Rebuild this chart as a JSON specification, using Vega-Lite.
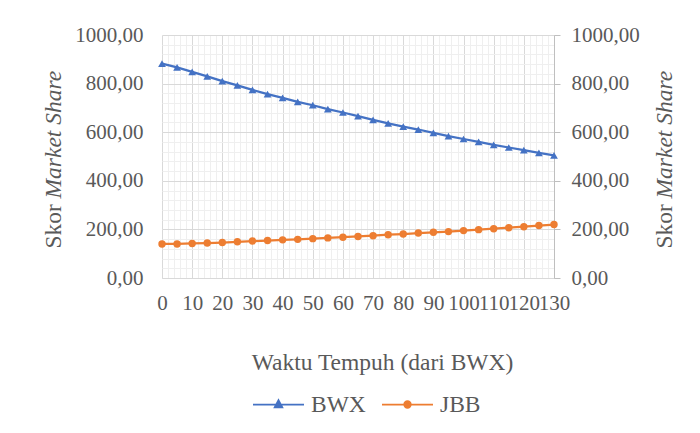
{
  "$schema": "https://vega.github.io/schema/vega-lite/v6.json",
  "width": 392,
  "height": 243,
  "autosize": "none",
  "padding": {"left": 162, "top": 35, "right": 146, "bottom": 155},
  "background": "white",
  "config": {
    "font": "Liberation Serif",
    "view": {"stroke": null},
    "axis": {
      "labelFont": "Liberation Serif",
      "titleFont": "Liberation Serif",
      "labelColor": "#595959",
      "titleColor": "#595959",
      "labelFontSize": 21,
      "titleFontSize": 23.5,
      "titleFontWeight": "normal"
    },
    "legend": {"labelFont": "Liberation Serif"}
  },
  "data": {
    "values": [
      {"t": 0, "series": "BWX", "score": 882}, {"t": 5, "series": "BWX", "score": 867},
      {"t": 10, "series": "BWX", "score": 848}, {"t": 15, "series": "BWX", "score": 830},
      {"t": 20, "series": "BWX", "score": 810}, {"t": 25, "series": "BWX", "score": 793},
      {"t": 30, "series": "BWX", "score": 774}, {"t": 35, "series": "BWX", "score": 757},
      {"t": 40, "series": "BWX", "score": 741}, {"t": 45, "series": "BWX", "score": 725},
      {"t": 50, "series": "BWX", "score": 711}, {"t": 55, "series": "BWX", "score": 695},
      {"t": 60, "series": "BWX", "score": 681}, {"t": 65, "series": "BWX", "score": 666},
      {"t": 70, "series": "BWX", "score": 651}, {"t": 75, "series": "BWX", "score": 636},
      {"t": 80, "series": "BWX", "score": 623}, {"t": 85, "series": "BWX", "score": 611},
      {"t": 90, "series": "BWX", "score": 597}, {"t": 95, "series": "BWX", "score": 584},
      {"t": 100, "series": "BWX", "score": 572}, {"t": 105, "series": "BWX", "score": 560},
      {"t": 110, "series": "BWX", "score": 548}, {"t": 115, "series": "BWX", "score": 537},
      {"t": 120, "series": "BWX", "score": 526}, {"t": 125, "series": "BWX", "score": 515},
      {"t": 130, "series": "BWX", "score": 505},
      {"t": 0, "series": "JBB", "score": 140}, {"t": 5, "series": "JBB", "score": 140},
      {"t": 10, "series": "JBB", "score": 142}, {"t": 15, "series": "JBB", "score": 144},
      {"t": 20, "series": "JBB", "score": 146}, {"t": 25, "series": "JBB", "score": 149},
      {"t": 30, "series": "JBB", "score": 152}, {"t": 35, "series": "JBB", "score": 154},
      {"t": 40, "series": "JBB", "score": 157}, {"t": 45, "series": "JBB", "score": 159},
      {"t": 50, "series": "JBB", "score": 162}, {"t": 55, "series": "JBB", "score": 165},
      {"t": 60, "series": "JBB", "score": 168}, {"t": 65, "series": "JBB", "score": 171},
      {"t": 70, "series": "JBB", "score": 174}, {"t": 75, "series": "JBB", "score": 178},
      {"t": 80, "series": "JBB", "score": 181}, {"t": 85, "series": "JBB", "score": 185},
      {"t": 90, "series": "JBB", "score": 188}, {"t": 95, "series": "JBB", "score": 191},
      {"t": 100, "series": "JBB", "score": 195}, {"t": 105, "series": "JBB", "score": 199},
      {"t": 110, "series": "JBB", "score": 203}, {"t": 115, "series": "JBB", "score": 207},
      {"t": 120, "series": "JBB", "score": 211}, {"t": 125, "series": "JBB", "score": 216},
      {"t": 130, "series": "JBB", "score": 220}
    ]
  },
  "encoding": {
    "color": {
      "field": "series",
      "type": "nominal",
      "scale": {"domain": ["BWX", "JBB"], "range": ["#4472C4", "#ED7D31"]},
      "legend": {
        "title": null,
        "orient": "none",
        "direction": "horizontal",
        "legendX": 90,
        "legendY": 343,
        "padding": 0,
        "symbolSize": 2601,
        "symbolStrokeWidth": 1.75,
        "labelFont": "Liberation Serif",
        "labelFontSize": 23.5,
        "labelColor": "#595959",
        "labelOffset": 6,
        "columnPadding": 12,
        "encode": {
          "symbols": {
            "update": {
              "shape": {"signal": "datum.value === 'BWX' ? 'M-1,0H1M0,-0.17L0.15,0.11L-0.15,0.11Z' : 'M-1,0H1M0.13,0A0.13,0.13 0 1,1 -0.13,0A0.13,0.13 0 1,1 0.13,0Z'"},
              "fill": {"scale": "color", "field": "value"},
              "stroke": {"scale": "color", "field": "value"},
              "opacity": {"value": 1}
            }
          },
          "labels": {"update": {"font": {"value": "Liberation Serif"}}}
        }
      }
    }
  },
  "layer": [
    {
      "transform": [{"filter": "datum.series === 'BWX'"}],
      "mark": {"type": "line", "strokeWidth": 2.25},
      "encoding": {
        "x": {
          "field": "t", "type": "quantitative",
          "scale": {"domain": [0, 130], "nice": false, "zero": false},
          "axis": {
            "orient": "top", "grid": true, "gridColor": "#efefef",
            "values": [0,2,4,6,8,10,12,14,16,18,20,22,24,26,28,30,32,34,36,38,40,42,44,46,48,50,52,54,56,58,60,62,64,66,68,70,72,74,76,78,80,82,84,86,88,90,92,94,96,98,100,102,104,106,108,110,112,114,116,118,120,122,124,126,128,130],
            "labels": false, "ticks": false, "domain": false, "title": null
          }
        },
        "y": {
          "field": "score", "type": "quantitative",
          "scale": {"domain": [0, 1000], "nice": false},
          "axis": {
            "orient": "left", "grid": true, "gridColor": "#efefef",
            "values": [0,40,80,120,160,200,240,280,320,360,400,440,480,520,560,600,640,680,720,760,800,840,880,920,960,1000],
            "labels": false, "ticks": false, "domain": false,
            "title": "Market Share", "titleFont": "Liberation Serif", "titleFontStyle": "italic",
            "titleX": -109, "titleY": 163, "titleAngle": 270,
            "titleAlign": "left", "titleBaseline": "middle"
          }
        }
      }
    },
    {
      "transform": [{"filter": "datum.series === 'JBB'"}],
      "mark": {"type": "line", "strokeWidth": 2.25},
      "encoding": {
        "x": {
          "field": "t", "type": "quantitative",
          "scale": {"domain": [0, 130], "nice": false, "zero": false},
          "axis": {
            "orient": "bottom", "grid": true, "gridColor": "#d9d9d9",
            "values": [0,10,20,30,40,50,60,70,80,90,100,110,120,130],
            "ticks": false, "tickSize": 0, "domain": true, "domainColor": "#d9d9d9",
            "labelPadding": 14, "labelOverlap": false, "labelFlush": false, "labelBound": false,
            "title": "Waktu Tempuh (dari BWX)", "titleFont": "Liberation Serif",
            "titleX": 220, "titleY": 84, "titleAlign": "center", "titleBaseline": "middle"
          }
        },
        "y": {
          "field": "score", "type": "quantitative",
          "scale": {"domain": [0, 1000], "nice": false},
          "axis": {
            "orient": "left", "grid": true, "gridColor": "#d9d9d9",
            "values": [0,200,400,600,800,1000],
            "labelExpr": "replace(format(datum.value, '.2f'), '.', ',')",
            "ticks": false, "tickSize": 0, "domain": false, "labelPadding": 19,
            "title": "Skor", "titleFont": "Liberation Serif",
            "titleX": -109, "titleY": 213, "titleAngle": 270,
            "titleAlign": "left", "titleBaseline": "middle"
          }
        }
      }
    },
    {
      "transform": [{"filter": "datum.series === 'BWX'"}],
      "mark": {"type": "point", "shape": "triangle-up", "filled": true, "opacity": 1, "size": 60},
      "encoding": {
        "x": {"field": "t", "type": "quantitative", "scale": {"domain": [0, 130], "nice": false, "zero": false}, "axis": null},
        "y": {
          "field": "score", "type": "quantitative",
          "scale": {"domain": [0, 1000], "nice": false},
          "axis": {
            "orient": "right", "grid": false,
            "values": [0,200,400,600,800,1000],
            "labelExpr": "replace(format(datum.value, '.2f'), '.', ',')",
            "ticks": true, "tickSize": 6, "tickColor": "#bfbfbf",
            "domain": true, "domainColor": "#bfbfbf", "labelPadding": 11,
            "title": "Skor", "titleFont": "Liberation Serif",
            "titleX": 110, "titleY": 213, "titleAngle": 270,
            "titleAlign": "left", "titleBaseline": "middle"
          }
        }
      }
    },
    {
      "transform": [{"filter": "datum.series === 'JBB'"}],
      "mark": {"type": "point", "shape": "circle", "filled": true, "opacity": 1, "size": 55},
      "encoding": {
        "x": {"field": "t", "type": "quantitative", "scale": {"domain": [0, 130], "nice": false, "zero": false}, "axis": null},
        "y": {
          "field": "score", "type": "quantitative",
          "scale": {"domain": [0, 1000], "nice": false},
          "axis": {
            "orient": "right", "grid": false,
            "labels": false, "ticks": false, "domain": false,
            "title": "Market Share", "titleFont": "Liberation Serif", "titleFontStyle": "italic",
            "titleX": 110, "titleY": 163, "titleAngle": 270,
            "titleAlign": "left", "titleBaseline": "middle"
          }
        }
      }
    }
  ],
  "resolve": {"axis": {"x": "independent", "y": "independent"}}
}
